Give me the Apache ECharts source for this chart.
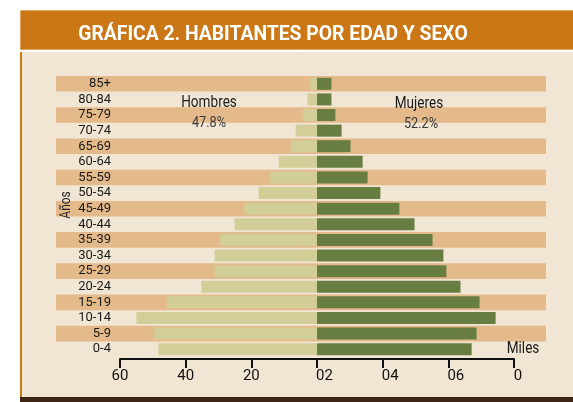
<!DOCTYPE html>
<html>
<head>
<meta charset="utf-8">
<script src="https://cdn.jsdelivr.net/npm/echarts@6/dist/echarts.min.js"></script>
<style>
body{margin:0;background:#fff;}
#chart{width:573px;height:402px;}
</style>
</head>
<body>
<div id="chart"></div>
<script>
// grupos de edad, de abajo hacia arriba
var edades = ['0-4','5-9','10-14','15-19','20-24','25-29','30-34','35-39','40-44',
              '45-49','50-54','55-59','60-64','65-69','70-74','75-79','80-84','85+'];
// miles de habitantes
var hombres = [48.3, 49.5, 55.0, 45.8, 35.2, 31.2, 31.2, 29.4, 25.1,
               22.1, 17.8, 14.2, 11.7, 8.1, 6.5, 4.4, 2.9, 2.0];
var mujeres = [47.1, 48.6, 54.4, 49.5, 43.7, 39.4, 38.5, 35.2, 29.7,
               25.1, 19.3, 15.4, 13.9, 10.2, 7.5, 5.6, 4.4, 4.4];
var ticksX = [-60, -40, -20, 0, 20, 40, 60];
var etiquetasX = ['60', '40', '20', '02', '04', '06', '0'];

var fuente = "Roboto,'Liberation Sans',sans-serif";

// texto "condensado" a mano con scaleX
function texto(t, x, y, size, color, sx, extra) {
    var el = {
        type: 'text', x: x, y: y, z: 100, scaleX: sx,
        style: { text: t, fill: color, font: size + 'px ' + fuente, align: 'center', verticalAlign: 'middle' }
    };
    if (extra) for (var k in extra) el[k] = extra[k];
    return el;
}

var dom = document.getElementById('chart');
var myChart = echarts.init(dom);
var option = {
    backgroundColor: '#ffffff',
    animation: false,
    textStyle: { fontFamily: fuente },
    graphic: [
        { type: 'rect', z: -10, shape: { x: 20, y: 52, width: 553, height: 345 }, style: { fill: '#f1e6d4' } },
        { type: 'rect', z: -9, shape: { x: 20, y: 52, width: 2, height: 345 }, style: { fill: '#cc7a1e' } },
        { type: 'rect', z: -9, shape: { x: 20, y: 397, width: 553, height: 5 }, style: { fill: '#3d2413' } },
        { type: 'rect', z: -9, shape: { x: 20.5, y: 10.5, width: 560, height: 39 },
          style: { fill: '#cb7716', stroke: '#e2a860', lineWidth: 1 } },
        {
            type: 'text', x: 273, y: 35, z: 100, scaleX: 0.92,
            style: { text: 'GRÁFICA 2. HABITANTES POR EDAD Y SEXO', fill: '#ffffff',
                     font: 'bold 21px ' + fuente, align: 'center', verticalAlign: 'middle' }
        },
        texto('Años', 66, 205, 14, '#222', 0.85, { rotation: Math.PI / 2 }),
        texto('Hombres', 209, 103, 16, '#1a1a1a', 0.85),
        texto('47.8%', 209, 123, 15, '#3a3a3a', 0.85),
        texto('Mujeres', 419, 104, 16, '#1a1a1a', 0.85),
        texto('52.2%', 421, 124, 15, '#3a3a3a', 0.85),
        texto('Miles', 523, 349, 16, '#1a1a1a', 0.85)
    ],
    grid: [
        { left: 56, right: 27, top: 76, height: 281 },
        { left: 120, width: 394, top: 76, height: 281 }
    ],
    xAxis: [
        { gridIndex: 0, type: 'value', min: 0, max: 1, show: false },
        {
            gridIndex: 1, type: 'value', min: -60, max: 60, interval: 20, offset: 2,
            axisLine: { show: true, lineStyle: { color: '#111', width: 2 } },
            axisTick: { show: true, length: 9, lineStyle: { color: '#111', width: 2 } },
            splitLine: { show: false },
            axisLabel: {
                margin: 10,
                formatter: function (v) {
                    var t = etiquetasX[ticksX.indexOf(v)];
                    if (v < 0) return '{c|' + t + '}';
                    return (t.length > 1 ? '{r2|' : '{r1|') + t + '}';
                },
                rich: {
                    c: { fontSize: 15, color: '#111', fontFamily: fuente },
                    r2: { fontSize: 15, color: '#111', fontFamily: fuente, padding: [0, 0, 0, 15] },
                    r1: { fontSize: 15, color: '#111', fontFamily: fuente, padding: [0, 0, 0, 8] }
                }
            }
        }
    ],
    yAxis: [
        {
            gridIndex: 0, type: 'category', data: edades,
            axisLine: { show: false }, axisTick: { show: false }, axisLabel: { show: false },
            splitArea: { show: true, interval: 0, areaStyle: { color: ['rgba(0,0,0,0)', '#e4ba8a'] } }
        },
        {
            gridIndex: 1, type: 'category', data: edades,
            axisLine: { show: false }, axisTick: { show: false },
            axisLabel: { interval: 0, margin: 9, color: '#1a1a1a', fontSize: 13, fontFamily: fuente }
        }
    ],
    series: [
        {
            name: 'Hombres', type: 'bar', xAxisIndex: 1, yAxisIndex: 1, stack: 'total',
            barWidth: 12, itemStyle: { color: '#d1cf97' },
            data: hombres.map(function (v) { return -v; })
        },
        {
            name: 'Mujeres', type: 'bar', xAxisIndex: 1, yAxisIndex: 1, stack: 'total',
            barWidth: 12, itemStyle: { color: '#677d42' },
            data: mujeres
        }
    ]
};
myChart.setOption(option, true);
</script>
</body>
</html>
